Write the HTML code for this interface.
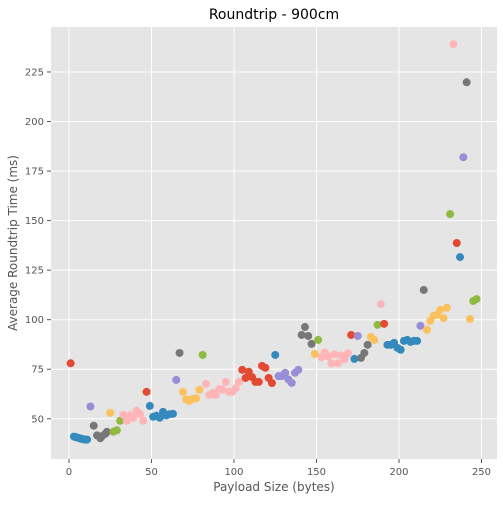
<!DOCTYPE html>
<html><head><meta charset="utf-8"><style>
body{margin:0;background:#fff;font-family:"Liberation Sans","DejaVu Sans",sans-serif;}
svg text{font-family:"DejaVu Sans","Liberation Sans",sans-serif;}
</style></head><body>
<svg id="chart" width="503" height="500" viewBox="0 0 503 500" xmlns="http://www.w3.org/2000/svg"></svg>
<script>
const xTicks=[0,50,100,150,200,250];
const yTicks=[50,75,100,125,150,175,200,225];
const colors=["#E24A33","#348ABD","#988ED5","#777777","#FBC15E","#8EBA42","#FFB5B8"];
const xs=[1,3,4,5,6,7,8,9,10,11,13,15,17,19,20,22,23,25,27,29,31,33,35,37,39,41,43,45,47,49,51,53,55,57,59,61,63,65,67,69,71,73,75,77,79,81,83,85,87,89,91,93,95,97,99,101,103,105,107,109,111,113,115,117,119,121,123,125,127,129,131,133,135,137,139,141,143,145,147,149,151,153,155,157,159,161,163,165,167,169,171,173,175,177,179,181,183,185,187,189,191,193,195,197,199,201,203,205,207,209,211,213,215,217,219,221,223,225,227,229,231,233,235,237,239,241,243,245,247];
const ys=[78,41,40.8,40.5,40.3,40,39.8,39.6,39.5,39.5,56.2,46.5,41.6,40.2,41.2,42.4,43.4,53,43.5,44.2,49,52,49,51.7,50.5,54.1,52.4,49,63.6,56.5,51,51.5,50.5,53.5,51.7,52.3,52.5,69.6,83.2,63.6,59.8,59,60.1,60.3,64.6,82.2,67.6,62,63,62,65,64.7,68.6,63.6,63.6,65.4,68.6,74.7,70.6,73.7,71,68.6,68.6,76.7,75.7,70.6,68,82.2,71.5,71.5,73.2,69.8,68.1,73.2,74.7,92.3,96.3,91.8,87.8,82.7,89.8,81,83.5,81.5,78,82.5,78,81.9,80,83,92.3,80.2,91.8,80.7,83.2,87.3,91.3,89.8,97.4,107.9,97.9,87.3,87.3,88.3,85.8,84.8,89.3,89.8,88.8,89.3,89.3,96.9,115,94.9,99.4,102,102.5,105,100.8,106,153.3,239,138.7,131.6,182,219.8,100.4,109.4,110.4];
const cats=[0,1,1,1,1,1,1,1,1,1,2,3,3,3,3,3,3,4,5,5,5,6,6,6,6,6,6,6,0,1,1,1,1,1,1,1,1,2,3,4,4,4,4,4,4,5,6,6,6,6,6,6,6,6,6,6,6,0,0,0,0,0,0,0,0,0,0,1,2,2,2,2,2,2,2,3,3,3,3,4,5,6,6,6,6,6,6,6,6,6,0,1,2,3,3,3,4,4,5,6,0,1,1,1,1,1,1,1,1,1,1,2,3,4,4,4,4,4,4,4,5,6,0,1,2,3,4,5,5];
const NS="http://www.w3.org/2000/svg";
const svg=document.getElementById('chart');
const L=51,R=497,T=27,B=459,x0=-10.9,x1=259.4,y0=29.7,y1=247.7;
const X=v=>L+(v-x0)/(x1-x0)*(R-L);
const Y=v=>B-(v-y0)/(y1-y0)*(B-T);
function mk(t,a){const e=document.createElementNS(NS,t);for(const k in a)e.setAttribute(k,a[k]);svg.appendChild(e);return e;}
let bg=mk('rect',{x:L,y:T,width:R-L,height:B-T,fill:'#E5E5E5'});


xTicks.forEach(t=>{
 let g=mk('line',{x1:X(t),x2:X(t),y1:T,y2:B,stroke:'#fff','stroke-width':1});
 
 
 let tk=mk('line',{x1:X(t),x2:X(t),y1:B,y2:B+4,stroke:'#555'});
 
 
 let tx=mk('text',{x:X(t),y:B+16,'text-anchor':'middle','font-size':10,fill:'#555'});tx.textContent=t;
 
 
});
yTicks.forEach(t=>{
 let g=mk('line',{x1:L,x2:R,y1:Y(t),y2:Y(t),stroke:'#fff','stroke-width':1});
 
 
 let tk=mk('line',{x1:L-4,x2:L,y1:Y(t),y2:Y(t),stroke:'#555'});
 
 
 let tx=mk('text',{x:L-7,y:Y(t)+3.5,'text-anchor':'end','font-size':10,fill:'#555'});tx.textContent=t;
 
 
});
xs.forEach((v,i)=>{
 let c=mk('circle',{cx:X(v),cy:Y(ys[i]),r:4,fill:colors[cats[i]]});
 
 
});
let ti=mk('text',{x:(L+R)/2,y:19,'text-anchor':'middle','font-size':14,fill:'#000'});ti.textContent='Roundtrip - 900cm';


let xl=mk('text',{x:(L+R)/2,y:491,'text-anchor':'middle','font-size':12,fill:'#555'});xl.textContent='Payload Size (bytes)';


let yl=mk('text',{x:0,y:0,'text-anchor':'middle','font-size':12,fill:'#555',transform:`translate(17,${(T+B)/2}) rotate(-90)`});yl.textContent='Average Roundtrip Time (ms)';


</script>
</body></html>
